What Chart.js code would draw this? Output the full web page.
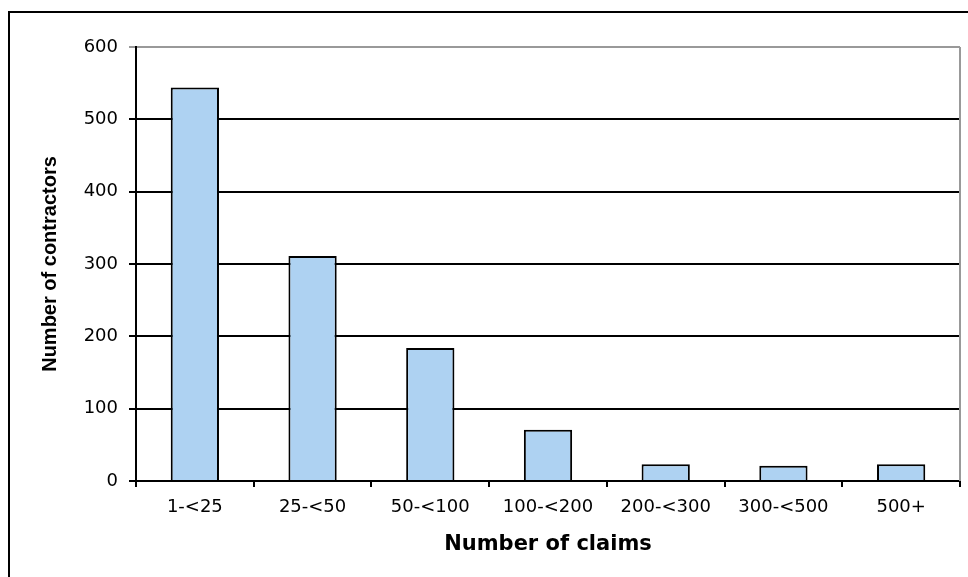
<!DOCTYPE html>
<html>
<head>
<meta charset="utf-8">
<script src="https://cdn.jsdelivr.net/npm/chart.js@4/dist/chart.umd.min.js"></script>
<style>
  html, body { margin: 0; padding: 0; background: #fff; }
  #wrap { position: relative; width: 968px; height: 577px; }
  #frame { position: absolute; left: 8px; top: 11px; right: -4px; bottom: -4px;
           border-left: 2px solid #000; border-top: 2px solid #000; }
  canvas { position: absolute; left: 0; top: 0; }
</style>
</head>
<body>
<div id="wrap">
  <div id="frame"></div>
  <canvas id="claimsChart" width="968" height="577"></canvas>
</div>
<script>
const categorias = ['1-<25', '25-<50', '50-<100', '100-<200', '200-<300', '300-<500', '500+'];
const contratistas = [544, 311, 184, 71, 23, 21, 23];
const yTicks = [0, 100, 200, 300, 400, 500, 600];

// borde gris a la derecha del área de trazado
const bordeDerecho = {
    id: 'bordeDerecho',
    afterDraw(chart) {
        const { ctx, chartArea } = chart;
        ctx.save();
        ctx.strokeStyle = '#999';
        ctx.lineWidth = 2;
        ctx.beginPath();
        ctx.moveTo(chartArea.right, chartArea.top);
        ctx.lineTo(chartArea.right, chartArea.bottom);
        ctx.stroke();
        ctx.restore();
    }
};

const config = {
    type: 'bar',
    data: {
        labels: categorias,
        datasets: [{
            label: 'Number of contractors',
            data: contratistas,
            backgroundColor: '#aed2f2',
            borderColor: '#000',
            borderWidth: 2,
            borderSkipped: 'start',
            categoryPercentage: 1,
            barPercentage: 0.41
        }]
    },
    options: {
        responsive: false,
        animation: false,
        layout: { padding: { left: 0, right: 8, top: 47, bottom: 0 } },
        plugins: {
            legend: { display: false },
            tooltip: { enabled: false }
        },
        scales: {
            x: {
                grid: {
                    offset: true,
                    drawOnChartArea: false,
                    tickLength: 6,
                    color: '#000',
                    lineWidth: 2
                },
                border: { color: '#000', width: 2 },
                ticks: {
                    color: '#000',
                    padding: 10,
                    maxRotation: 0,
                    font: { family: 'DejaVu Sans', size: 18 }
                },
                title: {
                    display: true,
                    text: 'Number of claims',
                    color: '#000',
                    padding: { top: 0, bottom: 20 },
                    font: { family: 'DejaVu Sans', size: 21, weight: 'bold' }
                },
                afterFit(scale) {
                    scale.height = 96;
                    scale.paddingLeft = 0;
                    scale.paddingRight = 0;
                }
            },
            y: {
                min: 0,
                max: 600,
                afterBuildTicks(scale) {
                    scale.ticks = yTicks.map(v => ({ value: v }));
                },
                grid: {
                    color: ctx => (ctx.tick && ctx.tick.value === 600) ? '#999' : '#000',
                    lineWidth: 2,
                    tickLength: 7
                },
                border: { color: '#000', width: 2 },
                ticks: {
                    color: '#000',
                    padding: 11,
                    font: { family: 'DejaVu Sans', size: 18 }
                },
                title: {
                    display: true,
                    text: 'Number of contractors',
                    color: '#000',
                    padding: { top: 38, bottom: 0 },
                    font: { family: 'Liberation Sans', size: 20, weight: 'bold' }
                },
                afterFit(scale) {
                    scale.width = 136;
                    scale.paddingTop = 0;
                    scale.paddingBottom = 0;
                }
            }
        }
    },
    plugins: [bordeDerecho]
};

window.onload = function() {
    const ctx = document.getElementById('claimsChart').getContext('2d');
    new Chart(ctx, config);
};
</script>
</body>
</html>
